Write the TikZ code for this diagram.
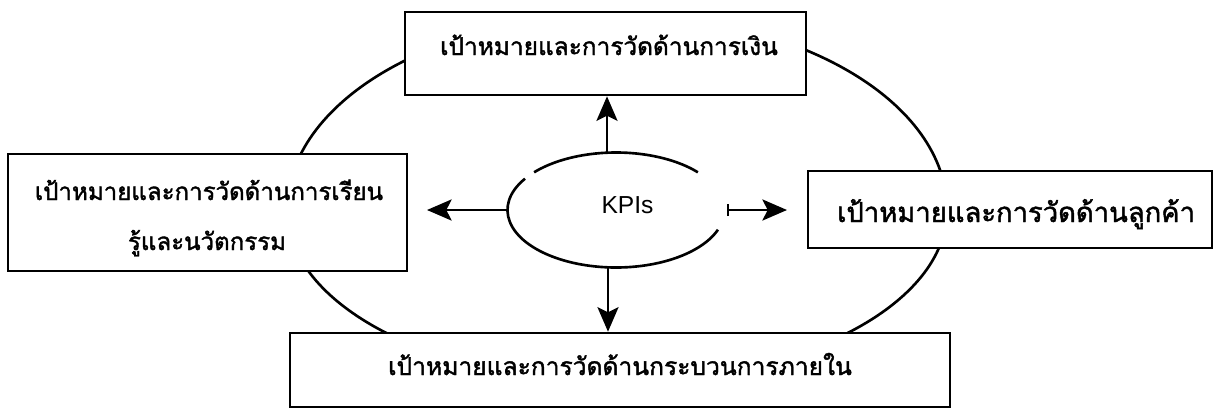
\documentclass[tikz,border=0pt]{standalone}
\usepackage{fontspec}
\newfontfamily\thaifont[Script=Thai, FakeBold=1.6]{Loma}
\setsansfont{Liberation Sans}
\usetikzlibrary{arrows.meta}

\begin{document}
\begin{tikzpicture}[x=0.02cm, y=-0.02cm,
  box/.style={draw, line width=1.5pt, fill=white, inner sep=0pt},
  lbl/.style={font=\thaifont\fontsize{#1}{18}\selectfont, anchor=base, inner sep=0pt},
  lbl/.default=14,
  tip/.style={-{Stealth[length=14pt, width=12pt, inset=3pt]}},
  arr/.style={line width=1.4pt, tip},
  ring/.style={line width=1.5pt}]
\useasboundingbox (0,0) rectangle (1214,410);

% outer loop linking the four perspectives (flatter underneath)
\coordinate (oc) at (617,210);
\draw[ring] ([shift={(0:330 and 195)}]oc)
  arc[start angle=0, end angle=-180, x radius=330, y radius=195]
  arc[start angle=-180, end angle=-360, x radius=330, y radius=172];

% the four perspective boxes
\node[box, minimum width=8.02cm, minimum height=1.66cm] (fin)  at (605.5,53.5) {};
\node[box, minimum width=7.98cm, minimum height=2.34cm] (learn) at (207.5,212.5) {};
\node[box, minimum width=8.08cm, minimum height=1.54cm] (cust) at (1010,209.5) {};
\node[box, minimum width=13.2cm, minimum height=1.48cm] (proc) at (620,370) {};

\node[lbl=13.9] (finT)   at (609,55)  {เป้าหมายและการวัดด้านการเงิน};
\node[lbl=13.7] (learnA) at (209,200) {เป้าหมายและการวัดด้านการเรียน};
\node[lbl=13.7] (learnB) at (207,250) {รู้และนวัตกรรม};
\node[lbl=15.6] (custT)  at (1016,222) {เป้าหมายและการวัดด้านลูกค้า};
\node[lbl=14]   (procT)  at (620,375) {เป้าหมายและการวัดด้านกระบวนการภายใน};

% central KPI ellipse, drawn as two open arcs
\coordinate (kc) at (616,210);
\draw[ring] ([shift={(-41:108.5 and 57.5)}]kc)
  arc[start angle=-41, end angle=-139, x radius=108.5, y radius=57.5];
\draw[ring] ([shift={(-147:108.5 and 57.5)}]kc)
  arc[start angle=-147, end angle=-340, x radius=108.5, y radius=57.5];
\node[font=\sffamily\fontsize{14}{16}\selectfont, anchor=base, inner sep=0pt] (kpi) at (627.5,213) {KPIs};

% arrows out of the centre
\coordinate (kT) at (607,152.7);
\coordinate (kB) at (608,267.3);
\coordinate (kL) at (507.5,210);
\coordinate (kR) at (727,210);
\coordinate (tipL) at (427,210);
\coordinate (tipR) at (787,210);
\draw[arr] (kT) -- (kT |- fin.south);
\draw[arr] (kB) -- (kB |- proc.north);
\draw[arr] (kL) -- (tipL);
\draw[line width=1.4pt, {Bar[width=7pt]}-{Stealth[length=14pt, width=12pt, inset=3pt]}] (kR) -- (tipR);
\end{tikzpicture}
\end{document}
